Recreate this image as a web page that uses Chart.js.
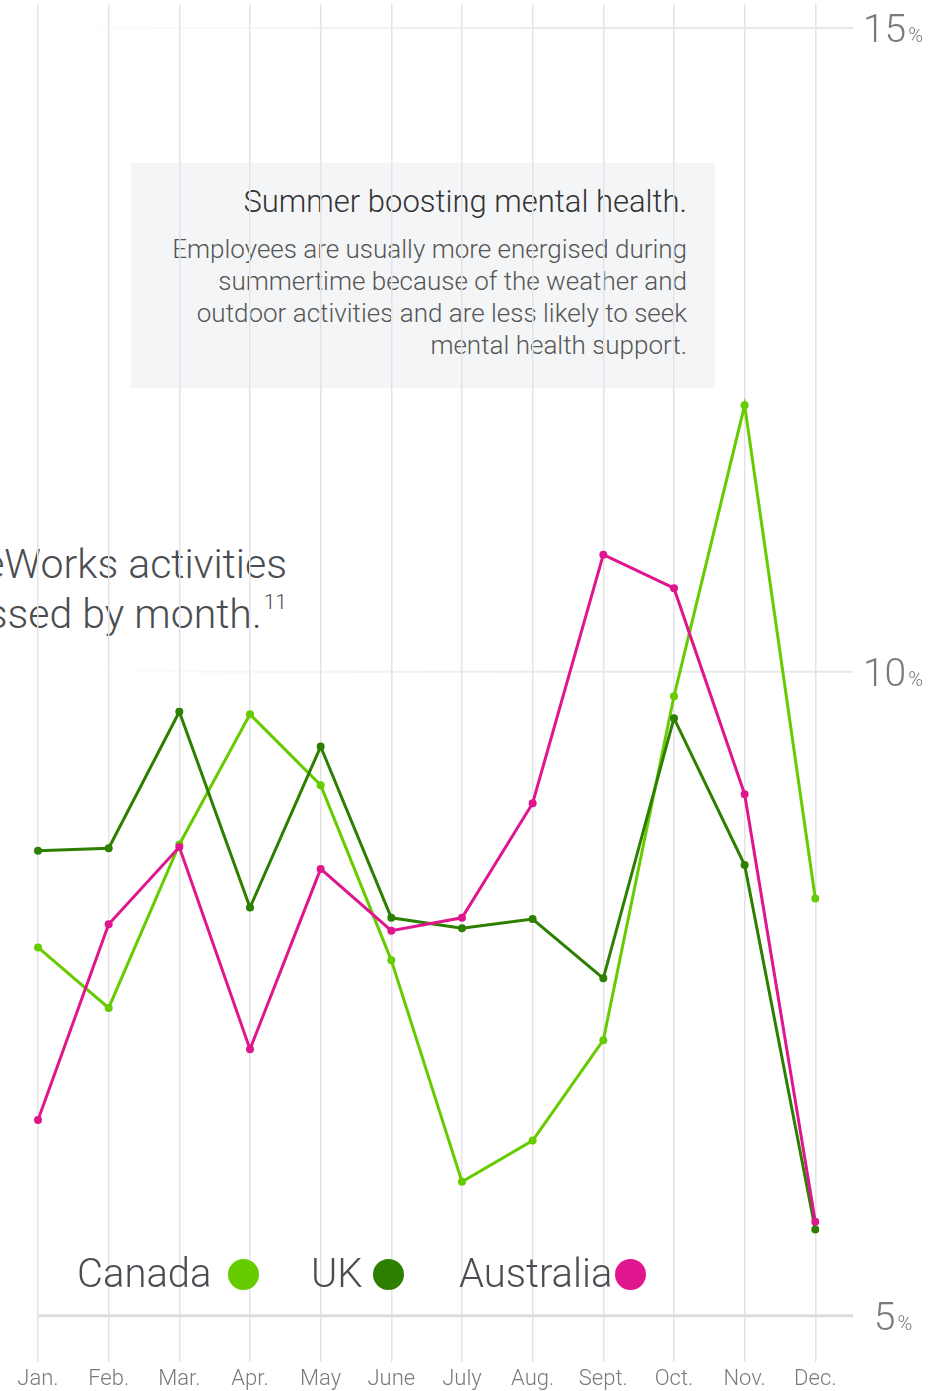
<!DOCTYPE html>
<html>
<head>
<meta charset="utf-8">
<script src="https://cdn.jsdelivr.net/npm/chart.js@4.4.1/dist/chart.umd.min.js"></script>
<style>
  body {
    margin: 0;
    width: 930px;
    height: 1391px;
    overflow: hidden;
    position: relative;
    background: #fff;
    font-family: Roboto, "Helvetica Neue", Arial, sans-serif;
    font-weight: 300;
  }
  #myChart { position: absolute; left: 0; top: 0; z-index: 2; }
  .heading {
    position: absolute;
    right: 643px;
    top: 539px;
    font-size: 41px;
    line-height: 50px;
    color: #4a4d52;
    text-align: right;
    white-space: nowrap;
  }
  .heading sup { font-size: 21px; vertical-align: 19px; line-height: 0; margin-left: 2px; }
  .note {
    position: absolute;
    left: 131px;
    top: 163px;
    width: 584px;
    height: 225px;
    background: #f4f5f7;
  }
  .note h3 {
    position: absolute;
    right: 28px;
    top: 21px;
    margin: 0;
    font-size: 31px;
    line-height: 36px;
    font-weight: 300;
    color: #333;
    white-space: nowrap;
  }
  .note p {
    position: absolute;
    right: 28px;
    top: 70px;
    margin: 0;
    font-size: 26px;
    line-height: 32px;
    color: #555;
    text-align: right;
    white-space: nowrap;
  }
  .legend {
    position: absolute;
    top: 1250px;
    left: 0;
    z-index: 3;
    font-size: 40px;
    color: #4a4d52;
  }
  .legend span { position: absolute; white-space: nowrap; line-height: 48px; }
  .legend i {
    display: inline-block;
    width: 31px;
    height: 31px;
    border-radius: 50%;
    vertical-align: -3px;
  }
</style>
</head>
<body>

<div class="heading">LifeWorks activities<br>accessed by month.<sup>11</sup></div>

<div class="note">
  <h3>Summer boosting mental health.</h3>
  <p>Employees are usually more energised during<br>summertime because of the weather and<br>outdoor activities and are less likely to seek<br>mental health support.</p>
</div>

<div class="legend" id="legend"></div>

<canvas id="myChart" width="930" height="1391"></canvas>

<script>
const months = ['Jan.', 'Feb.', 'Mar.', 'Apr.', 'May', 'June', 'July', 'Aug.', 'Sept.', 'Oct.', 'Nov.', 'Dec.']

const canada = [7.86, 7.39, 8.66, 9.67, 9.12, 7.76, 6.04, 6.36, 7.14, 9.81, 12.07, 8.24]
const uk = [8.61, 8.63, 9.69, 8.17, 9.42, 8.09, 8.01, 8.08, 7.62, 9.64, 8.50, 5.67]
const australia = [6.52, 8.04, 8.64, 7.07, 8.47, 7.99, 8.09, 8.98, 10.91, 10.65, 9.05, 5.73]

const seriesNames = ['Canada', 'UK', 'Australia']
const seriesColors = ['#66cc00', '#2d7f00', '#e0168f']

const yTicks = [5, 10, 15]

window.addEventListener('load', () => {
    buildLegend()
    drawChart()
})


function buildLegend() {

    const lefts = [77, 311, 459]
    const gaps = [16, 10, 3]
    const box = document.querySelector('#legend')

    seriesNames.forEach((name, i) => {
        const item = document.createElement('span')
        item.style.left = lefts[i] + 'px'
        item.innerHTML = name + '<i style="background:' + seriesColors[i] + '; margin-left:' + gaps[i] + 'px"></i>'
        box.appendChild(item)
    })

}


// horizontal rules and the "15%" style labels on the right
const yAxisLines = {
    id: 'yAxisLines',
    beforeDatasetsDraw(chart) {
        const ctx = chart.ctx
        const y = chart.scales.y
        yTicks.forEach((t) => {
            const py = y.getPixelForValue(t)
            ctx.save()
            ctx.beginPath()
            if (t === yTicks[0]) {
                ctx.strokeStyle = '#dcdcdc'
                ctx.lineWidth = 3
            } else {
                const grad = ctx.createLinearGradient(38, 0, 853, 0)
                grad.addColorStop(0, 'rgba(232,232,232,0)')
                grad.addColorStop(0.7, 'rgba(232,232,232,1)')
                ctx.strokeStyle = grad
                ctx.lineWidth = 2
            }
            ctx.moveTo(38, py)
            ctx.lineTo(853, py)
            ctx.stroke()
            ctx.restore()
        })
    },
    afterDraw(chart) {
        const ctx = chart.ctx
        const y = chart.scales.y
        const bigFont = '300 39px Roboto, "Helvetica Neue", Arial, sans-serif'
        const smallFont = '300 20px Roboto, "Helvetica Neue", Arial, sans-serif'
        yTicks.forEach((t) => {
            const py = y.getPixelForValue(t)
            const big = String(t)
            ctx.save()
            ctx.fillStyle = '#7a7a7a'
            ctx.textBaseline = 'alphabetic'
            ctx.font = bigFont
            const bw = ctx.measureText(big).width
            ctx.font = smallFont
            const sw = ctx.measureText('%').width
            const x0 = 893 - (bw + sw + 2) / 2
            ctx.font = bigFont
            ctx.fillText(big, x0, py + 14)
            ctx.font = smallFont
            ctx.fillText('%', x0 + bw + 2, py + 14)
            ctx.restore()
        })
    }
}


function drawChart() {

    const data = {
        labels: months,
        datasets: [canada, uk, australia].map((values, i) => ({
            label: seriesNames[i],
            data: values,
            borderColor: seriesColors[i],
            backgroundColor: seriesColors[i],
            borderWidth: 3,
            pointRadius: 4,
            pointBorderWidth: 0,
            tension: 0
        })).reverse()
    }

    const config = {
        type: 'line',
        data: data,
        options: {
            responsive: false,
            animation: false,
            devicePixelRatio: 1,
            layout: {
                padding: { left: 38, right: 114.7, top: 0, bottom: -7 }
            },
            plugins: {
                legend: { display: false },
                tooltip: { enabled: false }
            },
            scales: {
                x: {
                    offset: false,
                    border: { display: false },
                    grid: {
                        color: '#e3e3e8',
                        lineWidth: 1.5,
                        drawTicks: false
                    },
                    ticks: {
                        color: '#7a7a7a',
                        padding: 5,
                        maxRotation: 0,
                        autoSkip: false,
                        font: { family: 'Roboto, "Helvetica Neue", Arial, sans-serif', size: 22, weight: 300 }
                    }
                },
                y: {
                    display: false,
                    min: 4.644,
                    max: 15.186
                }
            }
        },
        plugins: [yAxisLines]
    }

    new Chart(document.querySelector('#myChart'), config)

}
</script>
</body>
</html>
